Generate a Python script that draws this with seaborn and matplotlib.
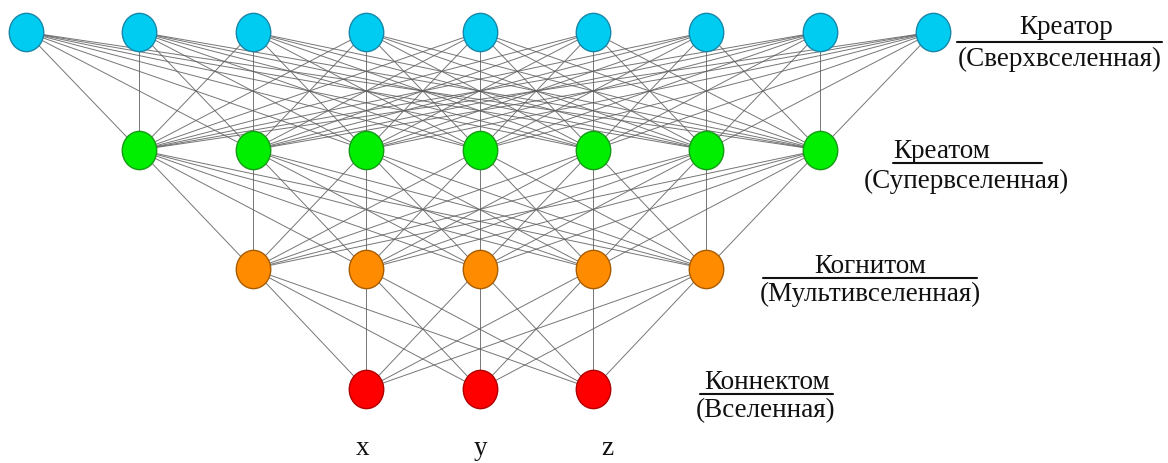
import numpy as np
import pandas as pd
import matplotlib
matplotlib.use("Agg")
import matplotlib.pyplot as plt
import seaborn as sns
from matplotlib.path import Path
from matplotlib.transforms import Affine2D

# layers of the network, top to bottom
layer_names = ["Креатор", "Креатом", "Когнитом", "Коннектом"]
layer_subs = ["(Сверхвселенная)", "(Супервселенная)", "(Мультивселенная)", "(Вселенная)"]
layer_counts = [9, 7, 5, 3]
axis_labels = ["x", "y", "z"]

node_colors = ["#00CCF2", "#00EE00", "#FF8C00", "#FF0000"]
node_edges = ["#1787A8", "#179A17", "#A85C00", "#B00000"]

# layout (pixels)
layer_y = [33, 151, 270, 390]
x_center = 479.5
spacing = 113.4

sns.set_theme(style="white")
plt.rcParams["font.family"] = ["Liberation Serif", "DejaVu Serif"]

fig = plt.figure(figsize=(11.68, 4.64), dpi=100)
ax = fig.add_axes([0, 0, 1, 1])
ax.set_xlim(0, 1168)
ax.set_ylim(464, 0)
ax.axis("off")

rows = []
for li, n in enumerate(layer_counts):
    for i in range(n):
        rows.append({"layer": li, "idx": i,
                     "x": x_center + (i - (n - 1) / 2) * spacing,
                     "y": layer_y[li]})
nodes = pd.DataFrame(rows)

# full connections between neighbouring layers
for li in range(len(layer_counts) - 1):
    a = nodes[nodes.layer == li]
    b = nodes[nodes.layer == li + 1]
    for _, p in a.iterrows():
        for _, q in b.iterrows():
            ax.plot([p.x, q.x], [p.y, q.y], color="#5e5e5e", lw=0.7, alpha=0.85, zorder=1)

ellipse = Path(Affine2D().scale(0.9, 1.0).transform(Path.unit_circle().vertices),
               Path.unit_circle().codes)
for li in range(len(layer_counts)):
    sns.scatterplot(data=nodes[nodes.layer == li], x="x", y="y", ax=ax,
                    marker=ellipse, s=760, color=node_colors[li],
                    edgecolor=node_edges[li], linewidth=1.0, zorder=3, legend=False)

fs = 19.5
tc = "#111111"
# Креатор
ax.text(1066, 27, layer_names[0], fontsize=fs, ha="center", va="center", color=tc)
ax.plot([957, 1162], [43, 43], color=tc, lw=1.5)
ax.text(1060, 59, layer_subs[0], fontsize=fs, ha="center", va="center", color=tc)
# Креатом
ax.text(942, 152, layer_names[1], fontsize=fs, ha="center", va="center", color=tc)
ax.plot([893, 1042], [164, 164], color=tc, lw=1.5)
ax.text(966, 181, layer_subs[1], fontsize=fs, ha="center", va="center", color=tc)
# Когнитом
ax.text(870, 267, layer_names[2], fontsize=fs, ha="center", va="center", color=tc)
ax.plot([763, 977], [279, 279], color=tc, lw=1.5)
ax.text(870, 294, layer_subs[2], fontsize=fs, ha="center", va="center", color=tc)
# Коннектом
ax.text(767, 383, layer_names[3], fontsize=fs, ha="center", va="center", color=tc)
ax.plot([700, 833], [395, 395], color=tc, lw=1.5)
ax.text(766, 411, layer_subs[3], fontsize=fs, ha="center", va="center", color=tc)

for lab, xx in zip(axis_labels, [363, 480, 607]):
    ax.text(xx, 449, lab, fontsize=fs, ha="center", va="center", color=tc)

fig.savefig("out.png", dpi=100)
